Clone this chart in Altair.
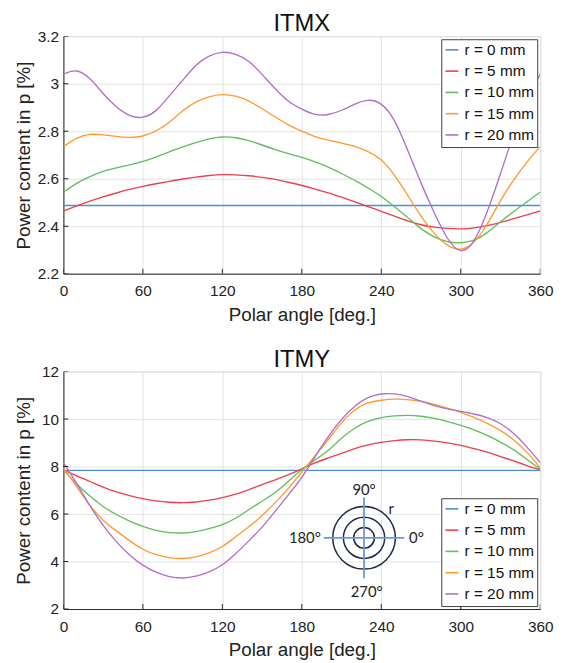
import altair as alt
import pandas as pd

# ---------------- data ----------------
angles = list(range(0, 361, 10))
x_ticks = [0, 60, 120, 180, 240, 300, 360]
series_names = ["r = 0 mm", "r = 5 mm", "r = 10 mm", "r = 15 mm", "r = 20 mm"]
series_colors = ["#4a8fd6", "#ee3f4c", "#62bd5c", "#ff9a2e", "#b06fc8"]

# ITMX
itmx_y_ticks = [2.2, 2.4, 2.6, 2.8, 3.0, 3.2]
itmx_r0_angles = [0, 360]
itmx_r0 = [2.487, 2.487]
itmx_r5 = [2.464, 2.486, 2.506, 2.524, 2.540, 2.555, 2.568, 2.579, 2.589, 2.599,
           2.607, 2.614, 2.618, 2.617, 2.613, 2.606, 2.598, 2.585, 2.572, 2.556,
           2.541, 2.522, 2.503, 2.482, 2.463, 2.443, 2.422, 2.405, 2.395, 2.390,
           2.388, 2.392, 2.402, 2.415, 2.432, 2.448, 2.464]
itmx_r10 = [2.543, 2.582, 2.610, 2.632, 2.646, 2.658, 2.672, 2.692, 2.713, 2.735,
            2.752, 2.769, 2.778, 2.774, 2.762, 2.742, 2.722, 2.705, 2.690, 2.672,
            2.650, 2.622, 2.594, 2.561, 2.527, 2.482, 2.437, 2.387, 2.353, 2.332,
            2.328, 2.337, 2.370, 2.420, 2.462, 2.503, 2.543]
itmx_r15 = [2.735, 2.774, 2.790, 2.785, 2.778, 2.772, 2.777, 2.800, 2.835, 2.888,
            2.925, 2.947, 2.957, 2.950, 2.929, 2.895, 2.860, 2.825, 2.800, 2.775,
            2.762, 2.750, 2.738, 2.715, 2.685, 2.618, 2.530, 2.440, 2.366, 2.315,
            2.295, 2.325, 2.405, 2.510, 2.596, 2.672, 2.735]
itmx_r20 = [3.040, 3.064, 3.026, 2.957, 2.900, 2.862, 2.853, 2.881, 2.950, 3.013,
            3.082, 3.120, 3.137, 3.126, 3.099, 3.040, 2.978, 2.922, 2.893, 2.867,
            2.867, 2.887, 2.915, 2.936, 2.922, 2.855, 2.720, 2.580, 2.455, 2.340,
            2.280, 2.325, 2.457, 2.620, 2.790, 2.940, 3.040]

# ITMY
itmy_y_ticks = [2, 4, 6, 8, 10, 12]
itmy_r0_angles = [0, 360]
itmy_r0 = [7.84, 7.84]
itmy_r5 = [7.86, 7.60, 7.375, 7.13, 6.92, 6.78, 6.64, 6.55, 6.49, 6.47,
           6.50, 6.58, 6.69, 6.83, 7.03, 7.24, 7.44, 7.65, 7.90, 8.17,
           8.36, 8.56, 8.76, 8.93, 9.02, 9.10, 9.14, 9.13, 9.08, 9.00,
           8.90, 8.76, 8.62, 8.42, 8.24, 8.04, 7.86]
itmy_r10 = [7.86, 7.25, 6.75, 6.30, 5.97, 5.70, 5.47, 5.30, 5.21, 5.19,
            5.25, 5.38, 5.54, 5.80, 6.19, 6.54, 6.90, 7.38, 7.90, 8.28,
            8.65, 9.22, 9.64, 9.92, 10.08, 10.14, 10.17, 10.125, 10.04, 9.90,
            9.74, 9.56, 9.32, 9.04, 8.72, 8.30, 7.89]
itmy_r15 = [7.95, 7.17, 6.33, 5.71, 5.29, 4.875, 4.49, 4.28, 4.15, 4.11,
            4.18, 4.35, 4.60, 5.05, 5.45, 5.93, 6.47, 7.08, 7.77, 8.46,
            9.13, 9.87, 10.43, 10.71, 10.80, 10.85, 10.83, 10.75, 10.63, 10.47,
            10.29, 10.08, 9.83, 9.53, 9.14, 8.625, 7.95]
itmy_r20 = [8.17, 7.30, 6.33, 5.50, 4.82, 4.25, 3.83, 3.53, 3.35, 3.28,
            3.37, 3.55, 3.83, 4.32, 4.87, 5.43, 6.12, 6.82, 7.51, 8.42,
            9.28, 10.01, 10.57, 10.94, 11.08, 11.08, 10.96, 10.75, 10.56, 10.42,
            10.33, 10.22, 10.08, 9.83, 9.42, 8.83, 8.17]

# inset diagram (bottom panel), in data coordinates
inset_center = [227.0, 5.0]
inset_h_angles = [196.6, 257.4]
inset_v_values = [3.3, 6.7]
inset_circle_diam = [21.0, 41.7, 63.3]
inset_lbl_center = ["90°", "270°", "r"]
inset_lbl_center_x = [227.0, 229.0, 247.5]
inset_lbl_center_y = [7.0, 2.7, 6.2]
inset_lbl_right = ["180°"]
inset_lbl_right_x = [194.4]
inset_lbl_right_y = [5.0]
inset_lbl_left = ["0°"]
inset_lbl_left_x = [261.0]
inset_lbl_left_y = [5.0]

FONT = "Liberation Sans"
AXIS_COLOR = "#262626"


def build(r0_angles, r0, others):
    rows = []
    for a, v in zip(r0_angles, r0):
        rows.append({"series": series_names[0], "angle": a, "value": v})
    for name, vals in zip(series_names[1:], others):
        for a, v in zip(angles, vals):
            rows.append({"series": name, "angle": a, "value": v})
    return pd.DataFrame(rows)


def encs(y_domain, y_ticks, title_pad):
    x_enc = alt.X("angle:Q",
                  scale=alt.Scale(domain=[0, 360], nice=False, zero=False),
                  axis=alt.Axis(values=x_ticks, title="Polar angle [deg.]",
                                labelFlush=False))
    y_enc = alt.Y("value:Q",
                  scale=alt.Scale(domain=y_domain, nice=False, zero=False),
                  axis=alt.Axis(values=y_ticks, title="Power content in p [%]",
                                format="~g", labelFlush=False,
                                titlePadding=title_pad))
    return x_enc, y_enc


def panel(title, df, y_domain, y_ticks, legend_orient, title_pad, inset=False):
    x_enc, y_enc = encs(y_domain, y_ticks, title_pad)

    # inward tick marks (MATLAB style), drawn from the tick arrays
    xt = pd.DataFrame({"angle": x_ticks, "value": [y_domain[0]] * len(x_ticks)})
    yt = pd.DataFrame({"angle": [0] * len(y_ticks), "value": y_ticks})
    xtick_layer = alt.Chart(xt).mark_tick(orient="vertical", size=10, thickness=1,
                                          color=AXIS_COLOR, clip=True, opacity=1).encode(
        x=x_enc, y=y_enc)
    ytick_layer = alt.Chart(yt).mark_tick(orient="horizontal", size=10, thickness=1,
                                          color=AXIS_COLOR, clip=True, opacity=1).encode(
        x=x_enc, y=y_enc)

    lines = alt.Chart(df).mark_line(strokeWidth=1.35, interpolate="basis", clip=True).encode(
        x=x_enc, y=y_enc,
        color=alt.Color("series:N",
                        scale=alt.Scale(domain=series_names, range=series_colors),
                        legend=alt.Legend(orient=legend_orient, offset=3, title=None,
                                          symbolType="stroke", symbolSize=170,
                                          symbolStrokeWidth=1.6,
                                          labelFont=FONT, labelFontSize=15.5,
                                          labelColor="#111111", labelOffset=5,
                                          strokeColor="#404040", fillColor="white",
                                          padding=3, rowPadding=4.5, labelLimit=200)),
        order=alt.Order("series:N"),
    )
    layers = [lines, xtick_layer, ytick_layer]
    if inset:
        cdf = pd.DataFrame({"angle": [inset_center[0]] * len(inset_circle_diam),
                            "value": [inset_center[1]] * len(inset_circle_diam),
                            "size": [d * d for d in inset_circle_diam]})
        circles = alt.Chart(cdf).mark_point(shape="circle", filled=False,
                                            stroke="#1c2a4a", strokeWidth=1.5,
                                            opacity=1).encode(
            x=x_enc, y=y_enc, size=alt.Size("size:Q", scale=None, legend=None))
        hdf = pd.DataFrame({"angle": [inset_h_angles[0]], "angle2": [inset_h_angles[1]],
                            "value": [inset_center[1]]})
        hline = alt.Chart(hdf).mark_rule(stroke="#6f96d6", strokeWidth=1.8).encode(
            x=x_enc, x2="angle2:Q", y=y_enc)
        vdf = pd.DataFrame({"angle": [inset_center[0]], "value": [inset_v_values[0]],
                            "value2": [inset_v_values[1]]})
        vline = alt.Chart(vdf).mark_rule(stroke="#6f96d6", strokeWidth=1.8).encode(
            x=x_enc, y=y_enc, y2="value2:Q")

        def txt(labels, xs, ys, align):
            tdf = pd.DataFrame({"angle": xs, "value": ys, "label": labels})
            return alt.Chart(tdf).mark_text(font="Lato", fontSize=15, color="#222222",
                                            align=align, baseline="middle").encode(
                x=x_enc, y=y_enc, text="label:N")

        layers += [circles, hline, vline,
                   txt(inset_lbl_center, inset_lbl_center_x, inset_lbl_center_y, "center"),
                   txt(inset_lbl_right, inset_lbl_right_x, inset_lbl_right_y, "right"),
                   txt(inset_lbl_left, inset_lbl_left_x, inset_lbl_left_y, "left")]
    return alt.layer(*layers).properties(
        width=482, height=240,
        title=alt.TitleParams(text=title, fontSize=24, font=FONT, fontWeight="normal",
                              anchor="middle", offset=-7, color="#111111"))


top = panel("ITMX", build(itmx_r0_angles, itmx_r0, [itmx_r5, itmx_r10, itmx_r15, itmx_r20]),
            [2.2, 3.2], itmx_y_ticks, "top-right", 4)
bottom = panel("ITMY", build(itmy_r0_angles, itmy_r0, [itmy_r5, itmy_r10, itmy_r15, itmy_r20]),
               [2, 12], itmy_y_ticks, "bottom-right", 8, inset=True)

chart = alt.vconcat(top, bottom, spacing=22).properties(
    padding={"left": 5, "top": 0, "right": 5, "bottom": 0}
).configure_view(
    stroke="#d9d9d9", strokeWidth=1
).configure_axis(
    domainColor=AXIS_COLOR, domainWidth=1, gridColor="#e3e3e3", gridWidth=1,
    ticks=False, labelFont=FONT, labelFontSize=15.5, labelColor="#222222",
    titleFont=FONT, titleFontSize=19, titleFontWeight="normal", titleColor="#222222"
).configure_axisX(
    labelPadding=10.5, titlePadding=6
).configure_axisY(
    labelPadding=5
)

chart.save("out.html", embed_options={"renderer": "svg", "actions": False})
